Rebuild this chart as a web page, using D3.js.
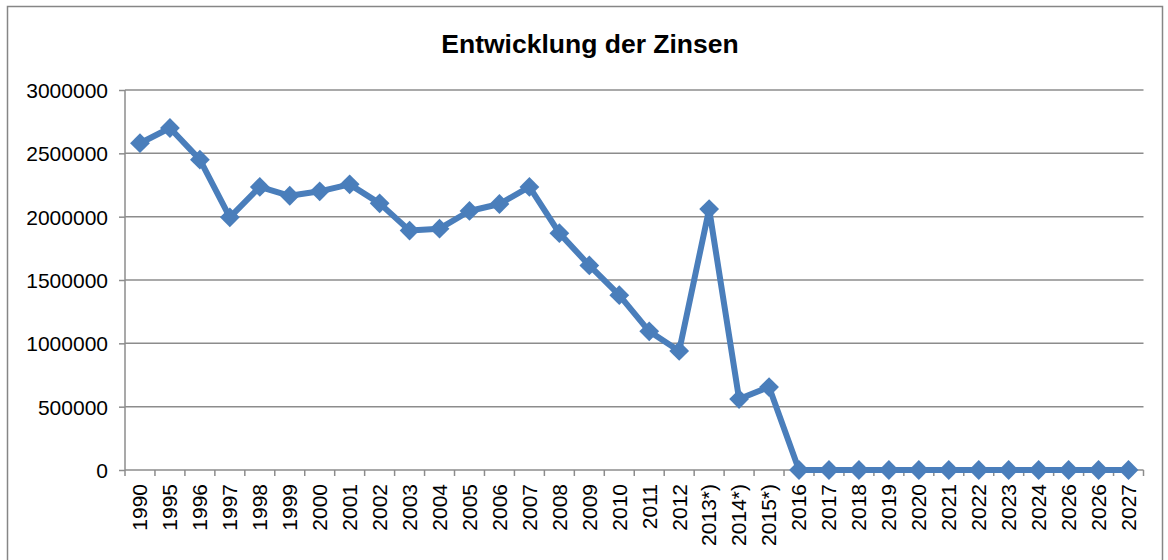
<!DOCTYPE html>
<html>
<head>
<meta charset="utf-8">
<script src="https://cdn.jsdelivr.net/npm/d3@7"></script>
<style>
  html, body { margin: 0; padding: 0; background: #fff; }
  svg { display: block; font-family: "Liberation Sans", Arial, sans-serif; }
</style>
</head>
<body>
<svg id="chart" width="1168" height="560"></svg>
<script>
const categories = ["1990","1995","1996","1997","1998","1999","2000","2001","2002","2003","2004","2005","2006","2007","2008","2009","2010","2011","2012","2013*)","2014*)","2015*)","2016","2017","2018","2019","2020","2021","2022","2023","2024","2026","2026","2027"];
const values = [2580000,2700000,2450000,1995000,2235000,2165000,2200000,2255000,2105000,1890000,1905000,2045000,2100000,2235000,1870000,1615000,1380000,1095000,940000,2060000,560000,655000,0,0,0,0,0,0,0,0,0,0,0,0];
const yTicks = [0,500000,1000000,1500000,2000000,2500000,3000000];
const title = "Entwicklung der Zinsen";

const svg = d3.select("#chart");
const plot = { left: 125, right: 1143.5, top: 90, bottom: 470 };

// outer frame
svg.append("rect").attr("x", 7.5).attr("y", 6.5).attr("width", 1155).attr("height", 600)
  .attr("fill", "none").attr("stroke", "#868686").attr("stroke-width", 1.5);

// title
svg.append("text").attr("x", 590).attr("y", 53).attr("text-anchor", "middle")
  .attr("font-size", 26.5).attr("font-weight", "bold").attr("fill", "#000").text(title);

const idx = categories.map((d, i) => i);
const x = d3.scaleBand().domain(idx).range([plot.left, plot.right]).paddingInner(0).paddingOuter(0);
const y = d3.scaleLinear().domain([0, 3000000]).range([plot.bottom, plot.top]);

// gridlines
svg.append("g").selectAll("line").data(yTicks).join("line")
  .attr("x1", plot.left).attr("x2", plot.right)
  .attr("y1", d => y(d)).attr("y2", d => y(d))
  .attr("stroke", "#8c8c8c").attr("stroke-width", 1.5);

// y axis
const yAxis = d3.axisLeft(y).tickValues(yTicks).tickSize(6).tickPadding(11).tickFormat(d3.format("d"));
const gy = svg.append("g").attr("transform", `translate(${plot.left},0)`).call(yAxis);
gy.select(".domain").attr("stroke", "#8c8c8c").attr("stroke-width", 1.5).attr("d", `M0,${plot.top}V${plot.bottom}`);
gy.selectAll(".tick line").attr("stroke", "#8c8c8c").attr("stroke-width", 1.5);
gy.selectAll(".tick text").attr("font-size", 21).attr("fill", "#000")
  .attr("font-family", "Liberation Sans, Arial, sans-serif").attr("dy", "0.35em");

// x axis ticks at category boundaries
const bounds = d3.range(categories.length + 1).map(i => plot.left + i * x.bandwidth());
svg.append("g").selectAll("line").data(bounds).join("line")
  .attr("x1", d => d).attr("x2", d => d)
  .attr("y1", plot.bottom).attr("y2", plot.bottom + 6)
  .attr("stroke", "#8c8c8c").attr("stroke-width", 1.5);

// x labels
svg.append("g").selectAll("text").data(categories).join("text")
  .attr("transform", (d, i) => `translate(${x(i) + x.bandwidth() / 2},${plot.bottom + 14}) rotate(-90)`)
  .attr("text-anchor", "end").attr("dy", "0.35em")
  .attr("font-size", 21).attr("fill", "#000").text(d => d);

// line
const cx = i => x(i) + x.bandwidth() / 2;
const line = d3.line().x((d, i) => cx(i)).y(d => y(d));
svg.append("path").datum(values).attr("d", line)
  .attr("fill", "none").attr("stroke", "#4a7ebb").attr("stroke-width", 6).attr("stroke-linejoin", "round");

// diamond markers
const sym = d3.symbol().type(d3.symbolDiamond2).size(250);
svg.append("g").selectAll("path").data(values).join("path")
  .attr("d", sym)
  .attr("transform", (d, i) => `translate(${cx(i)},${y(d)})`)
  .attr("fill", "#4a7ebb");
</script>
</body>
</html>
